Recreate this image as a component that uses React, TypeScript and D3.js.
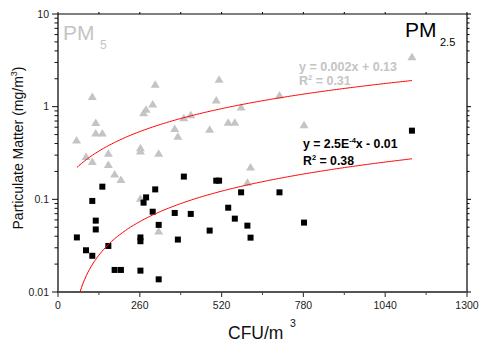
import React from "react";
import * as d3 from "d3";

// PM5 (grey triangles) – CFU/m3 vs mg/m3
const pm5X = [59, 89, 109, 120, 120, 141, 109, 160, 160, 262, 262, 320, 272, 280, 301, 309, 371, 381, 400, 422, 482, 503, 512, 541, 562, 582, 704, 782, 612, 602, 1125, 180, 200, 262, 320];
const pm5Y = [0.437, 0.29, 1.288, 0.676, 0.52, 0.52, 0.256, 0.314, 0.238, 0.361, 0.333, 0.314, 0.859, 0.938, 1.069, 1.749, 0.582, 0.48, 0.759, 0.82, 0.572, 1.181, 1.98, 0.679, 0.679, 0.993, 1.337, 0.64, 0.224, 0.153, 3.46, 0.188, 0.164, 0.103, 0.0456];

// PM2.5 (black squares)
const pm25X = [60, 89, 109, 109, 120, 120, 141, 160, 180, 200, 262, 262, 262, 272, 280, 301, 309, 320, 320, 371, 381, 400, 422, 482, 503, 512, 541, 562, 582, 602, 612, 704, 782, 1125];
const pm25Y = [0.0388, 0.0282, 0.0246, 0.0961, 0.0589, 0.0473, 0.137, 0.0314, 0.0173, 0.0173, 0.0388, 0.0353, 0.017, 0.0921, 0.105, 0.0735, 0.128, 0.053, 0.0137, 0.0713, 0.0368, 0.176, 0.0696, 0.046, 0.159, 0.159, 0.0812, 0.0619, 0.119, 0.052, 0.0386, 0.119, 0.0561, 0.551];

// linear fits as drawn
const fit5 = { slope: 0.00159, intercept: 0.125 };
const fit25 = { slope: 0.00025, intercept: -0.0075 };

const xTicks = [0, 260, 520, 780, 1040, 1300];
const xMinor = [130, 390, 650, 910, 1170];
const yTicks = [0.01, 0.1, 1, 10];
const yTickLabels = ["0.01", "0.1", "1", "10"];

const FONT = "Arial, 'Liberation Sans', sans-serif";
const GREY = "#c4c4c4";

export default function App() {
  const x = d3.scaleLinear().domain([0, 1300]).range([58, 467]);
  const y = d3.scaleLog().domain([0.01, 10]).range([292, 14]);

  const yMinor: number[] = [];
  [0.01, 0.1, 1].forEach((d) => {
    for (let k = 2; k <= 9; k++) yMinor.push(d * k);
  });

  const fitLine = (f: { slope: number; intercept: number }) => {
    const xs = d3.range(60, 1126, 5);
    const pts = xs
      .map((v) => [v, f.slope * v + f.intercept] as [number, number])
      .filter((p) => p[1] > 0.002);
    return d3
      .line<[number, number]>()
      .x((p) => x(p[0]))
      .y((p) => y(p[1]))(pts) as string;
  };

  const tri = (cx: number, cy: number) =>
    `M${cx - 4.5},${cy + 3.5}L${cx + 4.5},${cy + 3.5}L${cx},${cy - 4}Z`;

  return (
    <svg
      width={479}
      height={342}
      style={{ position: "absolute", left: 0, top: 0, background: "#fff" }}
      fontFamily={FONT}
    >
      <defs>
        <clipPath id="plot">
          <rect x={58} y={14} width={409} height={278} />
        </clipPath>
      </defs>

      {/* frame */}
      <line x1={58} x2={467} y1={14} y2={14} stroke="#000" strokeWidth={1.2} />
      <line x1={467} x2={467} y1={14} y2={292} stroke="#000" strokeWidth={1.2} />
      <line x1={58} x2={58} y1={14} y2={292} stroke="#111" strokeWidth={1.3} />
      <line x1={57} x2={467} y1={292} y2={292} stroke="#555" strokeWidth={2} />

      {/* x ticks */}
      {xTicks.map((t) => (
        <g key={"xt" + t}>
          <line x1={x(t)} x2={x(t)} y1={292} y2={297} stroke="#444" strokeWidth={1.2} />
          <line x1={x(t)} x2={x(t)} y1={14} y2={12} stroke="#000" />
          <text x={x(t)} y={308.5} fontSize={10.5} textAnchor="middle" fill="#222">
            {t}
          </text>
        </g>
      ))}
      {xMinor.map((t) => (
        <g key={"xm" + t}>
          <line x1={x(t)} x2={x(t)} y1={292} y2={295} stroke="#444" />
          <line x1={x(t)} x2={x(t)} y1={14} y2={12} stroke="#000" />
        </g>
      ))}

      {/* y ticks */}
      {yTicks.map((t, i) => (
        <g key={"yt" + t}>
          <line x1={52} x2={58} y1={y(t)} y2={y(t)} stroke="#111" />
          <line x1={467} x2={471} y1={y(t)} y2={y(t)} stroke="#000" />
          <text x={49} y={y(t) + 3.5} fontSize={10.5} textAnchor="end" fill="#222">
            {yTickLabels[i]}
          </text>
        </g>
      ))}
      {yMinor.map((t) => (
        <g key={"ym" + t}>
          <line x1={54.5} x2={58} y1={y(t)} y2={y(t)} stroke="#111" />
          <line x1={467} x2={469.5} y1={y(t)} y2={y(t)} stroke="#000" />
        </g>
      ))}

      {/* axis titles */}
      <text
        transform="translate(22.5,148) rotate(-90)"
        fontSize={14}
        textAnchor="middle"
        fill="#111"
      >
        Particulate Matter (mg/m
        <tspan fontSize={9} dy={-6}>3</tspan>
        <tspan dy={6}>)</tspan>
      </text>
      <text x={228} y={338.5} fontSize={17.5} fill="#111">
        CFU/m
      </text>
      <text x={290} y={327} fontSize={10.5} fill="#111">
        3
      </text>

      {/* data */}
      <g clipPath="url(#plot)">
        {pm5X.map((v, i) => (
          <path key={"t" + i} d={tri(x(v), y(pm5Y[i]))} fill={GREY} />
        ))}
        {pm25X.map((v, i) => (
          <rect
            key={"s" + i}
            x={x(v) - 3}
            y={y(pm25Y[i]) - 3}
            width={6}
            height={6}
            fill="#000"
          />
        ))}
        <path d={fitLine(fit5)} fill="none" stroke="#ff0000" strokeWidth={1} />
        <path d={fitLine(fit25)} fill="none" stroke="#ff0000" strokeWidth={1} />
      </g>

      {/* labels */}
      <text x={63} y={40} fontSize={21} fill={GREY}>
        PM
      </text>
      <text x={100} y={49} fontSize={12} fill={GREY}>
        5
      </text>
      <text x={405} y={37} fontSize={21} fill="#000">
        PM
      </text>
      <text x={440} y={46} fontSize={11} fill="#000">
        2.5
      </text>

      <text x={299} y={70.5} fontSize={12.5} fontWeight="bold" fill={GREY}>
        y = 0.002x + 0.13
      </text>
      <text x={299} y={84.5} fontSize={12.5} fontWeight="bold" fill={GREY}>
        R<tspan fontSize={7.5} dy={-4.5}>2</tspan>
        <tspan dy={4.5}> = 0.31</tspan>
      </text>

      <text x={303} y={147.5} fontSize={12.3} fontWeight="bold" fill="#000">
        y = 2.5E<tspan fontSize={7.5} dy={-5}>-4</tspan>
        <tspan dy={5}>x - 0.01</tspan>
      </text>
      <text x={303} y={165} fontSize={12.3} fontWeight="bold" fill="#000">
        R<tspan fontSize={7.5} dy={-5}>2</tspan>
        <tspan dy={5}> = 0.38</tspan>
      </text>
    </svg>
  );
}
